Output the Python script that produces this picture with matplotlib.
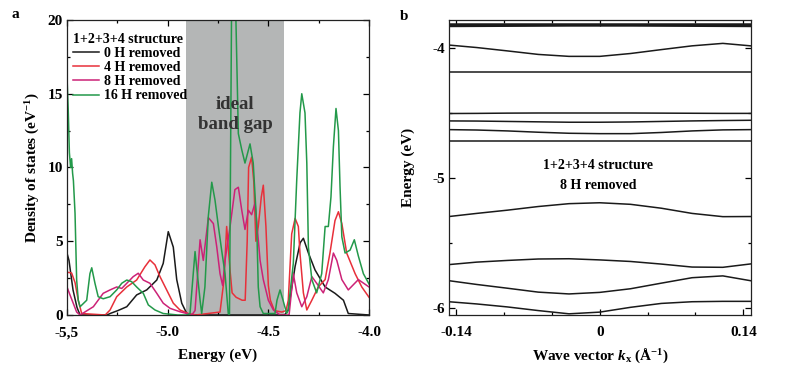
import numpy as np
import matplotlib
matplotlib.use("Agg")
import matplotlib.pyplot as plt
from matplotlib.ticker import FixedLocator, FixedFormatter

plt.rcParams['font.family'] = ['Liberation Serif', 'DejaVu Serif']
plt.rcParams['font.weight'] = 'bold'
plt.rcParams['axes.labelweight'] = 'bold'
plt.rcParams['axes.unicode_minus'] = False
plt.rcParams['mathtext.fontset'] = 'custom'
plt.rcParams['mathtext.rm'] = 'Liberation Serif:bold'
plt.rcParams['mathtext.it'] = 'Liberation Serif:italic:bold'
plt.rcParams['mathtext.bf'] = 'Liberation Serif:bold'

# ---- panel a: density of states ----
e_0h = [-5.5, -5.49, -5.47, -5.45, -5.435, -5.30, -5.286, -5.247, -5.203, -5.154, -5.104,
        -5.054, -5.022, -4.997, -4.972, -4.955, -4.930, -4.905, -4.88, -4.42, -4.401,
        -4.367, -4.342, -4.326, -4.301, -4.268, -4.218, -4.169, -4.127, -4.103, -4.0]
d_0h = [4.2, 3.7, 1.7, 0.5, 0.0, 0.0, 0.1, 0.3, 0.56, 1.36, 1.7,
        2.37, 3.5, 5.65, 4.6, 2.4, 0.8, 0.1, 0.0, 0.0, 0.34,
        3.3, 4.9, 5.2, 4.2, 3.05, 1.9, 1.47, 1.0, 0.1, 0.0]

e_4h = [-5.5, -5.477, -5.46, -5.444, -5.427, -5.31, -5.286, -5.253, -5.203, -5.154,
        -5.113, -5.088, -5.063, -5.038, -5.005, -4.972, -4.939, -4.897, -4.86,
        -4.74, -4.72, -4.707, -4.69, -4.68, -4.66, -4.63, -4.615, -4.605, -4.598,
        -4.583, -4.572, -4.562, -4.55, -4.535, -4.525, -4.512, -4.50, -4.49, -4.47,
        -4.433, -4.412, -4.401, -4.384, -4.367, -4.351, -4.343, -4.326, -4.309, -4.284,
        -4.252, -4.218, -4.194, -4.169, -4.152, -4.135, -4.111, -4.069, -4.036, -4.0]
d_4h = [2.9, 2.85, 2.2, 1.0, 0.1, 0.0, 0.34, 1.24, 1.9, 2.37,
        3.27, 3.73, 3.4, 2.6, 1.7, 0.8, 0.34, 0.1, 0.0,
        0.2, 2.4, 6.0, 3.0, 1.5, 1.2, 1.0, 1.0, 5.0, 10.0,
        10.7, 9.0, 5.0, 6.0, 8.0, 8.8, 6.0, 2.0, 1.0, 0.3,
        0.2, 0.3, 1.0, 5.5, 6.55, 6.0, 4.2, 1.5, 0.34, 1.0,
        1.9, 2.4, 4.2, 6.4, 7.0, 6.2, 4.2, 2.8, 1.9, 1.2]

e_8h = [-5.5, -5.485, -5.469, -5.452, -5.435, -5.369, -5.32, -5.286, -5.253, -5.228,
        -5.203, -5.171, -5.146, -5.121, -5.088, -5.054, -5.022, -4.988, -4.939, -4.905,
        -4.88, -4.864, -4.839, -4.823, -4.798, -4.773, -4.756, -4.740, -4.727, -4.715,
        -4.690, -4.666, -4.649, -4.632, -4.616, -4.599, -4.583, -4.566, -4.541, -4.525,
        -4.50, -4.475, -4.442, -4.397, -4.376, -4.359, -4.334, -4.309, -4.284, -4.26,
        -4.227, -4.202, -4.177, -4.16, -4.135, -4.103, -4.053, -4.0]
d_8h = [1.9, 1.36, 0.8, 0.2, 0.0, 0.56, 1.47, 1.7, 1.9, 1.8,
        2.15, 2.6, 2.83, 2.37, 2.15, 1.47, 0.8, 0.45, 0.22, 0.1,
        0.0, 0.3, 5.1, 3.7, 6.6, 6.2, 4.6, 2.8, 2.0, 3.7,
        6.0, 8.5, 8.66, 7.1, 5.8, 7.1, 6.8, 7.6, 3.7, 2.4,
        1.0, 0.34, 0.0, 0.0, 2.8, 1.5, 0.56, 1.24, 2.6, 2.15,
        1.5, 2.4, 4.2, 3.7, 2.4, 1.7, 2.4, 1.9]

e_16h = [-5.5, -5.494, -5.488, -5.482, -5.477, -5.472, -5.468, -5.46, -5.452, -5.444,
         -5.435, -5.402, -5.386, -5.377, -5.361, -5.345, -5.32, -5.286, -5.253, -5.228,
         -5.203, -5.179, -5.154, -5.121, -5.096, -5.063, -5.022, -4.95,
         -4.905, -4.889, -4.864, -4.839, -4.831, -4.815, -4.798, -4.781, -4.765, -4.748,
         -4.732, -4.715, -4.699, -4.693, -4.683, -4.675, -4.661, -4.649, -4.632, -4.616,
         -4.591, -4.575, -4.558, -4.550, -4.541, -4.525, -4.467, -4.457, -4.442, -4.427,
         -4.409, -4.402, -4.376, -4.359, -4.343, -4.334, -4.318, -4.309, -4.301, -4.284,
         -4.26, -4.235, -4.218, -4.202, -4.189, -4.177, -4.164, -4.152, -4.144, -4.135,
         -4.119, -4.094, -4.073, -4.053, -4.028, -4.0]
d_16h = [16.2, 14.0, 11.0, 10.0, 10.6, 9.6, 9.1, 6.9, 2.4, 1.0,
         0.56, 1.0, 2.8, 3.2, 2.15, 1.24, 1.1, 1.24, 1.7, 2.15,
         2.37, 2.26, 1.9, 1.47, 0.68, 0.34, 0.1, 0.0,
         0.0, 0.1, 4.3, 1.0, 0.1, 1.9, 6.7, 9.0, 7.8, 6.0,
         4.4, 2.8, 0.1, 0.0, 20.0, 24.0, 20.0, 12.3, 11.2, 10.3,
         11.6, 10.3, 6.2, 1.9, 0.56, 0.1, 0.1, 1.0, 1.7, 1.0,
         0.1, 0.3, 3.5, 9.15, 13.7, 15.0, 13.7, 10.3, 4.6, 2.4,
         1.5, 2.8, 6.0, 6.0, 8.0, 11.4, 14.0, 12.5, 8.7, 5.3,
         4.2, 4.4, 5.1, 4.0, 2.8, 2.1]

gap_lo, gap_hi = -4.909, -4.422

# ---- panel b: band structure, 8 H removed ----
k = [-0.147, -0.12, -0.09, -0.06, -0.03, 0.0, 0.03, 0.06, 0.09, 0.12, 0.147]
bands = [
    [-3.818] * 11,
    [-3.832, -3.831, -3.830, -3.829, -3.828, -3.828, -3.828, -3.829, -3.830, -3.831, -3.832],
    [-3.979, -3.998, -4.024, -4.051, -4.066, -4.066, -4.044, -4.014, -3.985, -3.966, -3.985],
    [-4.190] * 11,
    [-4.506, -4.505, -4.503, -4.502, -4.502, -4.502, -4.502, -4.503, -4.504, -4.505, -4.505],
    [-4.563, -4.564, -4.567, -4.570, -4.573, -4.573, -4.571, -4.567, -4.563, -4.560, -4.558],
    [-4.630, -4.633, -4.640, -4.650, -4.658, -4.661, -4.661, -4.652, -4.640, -4.632, -4.630],
    [-4.718] * 11,
    [-5.299, -5.275, -5.250, -5.222, -5.200, -5.193, -5.205, -5.235, -5.275, -5.300, -5.299],
    [-5.669, -5.650, -5.637, -5.626, -5.624, -5.633, -5.645, -5.665, -5.688, -5.690, -5.664],
    [-5.793, -5.822, -5.851, -5.881, -5.895, -5.883, -5.855, -5.812, -5.770, -5.756, -5.793],
    [-5.955, -5.972, -5.995, -6.023, -6.048, -6.035, -5.998, -5.968, -5.955, -5.952, -5.952],
]

fig = plt.figure(figsize=(7.87, 3.78), dpi=100)
ax1 = fig.add_axes([0.0851, 0.1667, 0.3838, 0.7804])
ax2 = fig.add_axes([0.5705, 0.1667, 0.3838, 0.7804])

# panel a
ax1.axvspan(gap_lo, gap_hi, color='#b4b6b6', zorder=0, lw=0)
ax1.plot(e_0h, d_0h, color='#1a1a1a', lw=1.1, label='0 H removed')
ax1.plot(e_4h, d_4h, color='#e8303a', lw=1.1, label='4 H removed')
ax1.plot(e_8h, d_8h, color='#cc2277', lw=1.1, label='8 H removed')
ax1.plot(e_16h, d_16h, color='#23994a', lw=1.1, label='16 H removed')
ax1.set_xlim(-5.5, -4.0)
ax1.set_ylim(0, 20)
ax1.xaxis.set_major_locator(FixedLocator([-5.5, -5.0, -4.5, -4.0]))
ax1.xaxis.set_major_formatter(FixedFormatter(['-5,5', '-5.0', '-4.5', '-4.0']))
ax1.xaxis.set_minor_locator(FixedLocator([-5.25, -4.75, -4.25]))
ax1.yaxis.set_major_locator(FixedLocator([0, 5, 10, 15, 20]))
ax1.yaxis.set_minor_locator(FixedLocator([2.5, 7.5, 12.5, 17.5]))
ax1.set_xlabel('Energy (eV)', fontsize=11)
ax1.set_ylabel('Density of states (eV$^{-1}$)', fontsize=11)
ax1.xaxis.set_label_coords(0.5, -0.115)
ax1.yaxis.set_label_coords(-0.083, 0.5)
ax1.text((gap_lo + gap_hi) / 2, 13.6, 'ideal\nband gap', ha='center', va='center',
         fontsize=13.5, color='#333333', linespacing=1.25)
leg = ax1.legend(title='1+2+3+4 structure', loc='upper left', bbox_to_anchor=(0.0, 0.975),
                 frameon=False, fontsize=10, title_fontsize=10, handlelength=1.9,
                 handletextpad=0.4, labelspacing=0.08, borderaxespad=0.2, borderpad=0.2,
                 alignment='left')
leg.get_title().set_fontweight('bold')

# panel b
for i, band in enumerate(bands):
    ax2.plot(k, band, color='#1a1a1a', lw=1.8 if i < 2 else 1.1)
ax2.set_xlim(-0.147, 0.1475)
ax2.set_ylim(-6.057, -3.786)
ax2.xaxis.set_major_locator(FixedLocator([-0.14, 0.0, 0.14]))
ax2.xaxis.set_major_formatter(FixedFormatter(['-0.14', '0', '0.14']))
ax2.xaxis.set_minor_locator(FixedLocator([-0.0933, -0.0467, 0.0467, 0.0933]))
ax2.yaxis.set_major_locator(FixedLocator([-6, -5, -4]))
ax2.yaxis.set_major_formatter(FixedFormatter(['-6', '-5', '-4']))
ax2.yaxis.set_minor_locator(FixedLocator([-5.5, -4.5]))
ax2.set_xlabel('Wave vector $k_{\\mathrm{x}}$ (Å$^{-1}$)', fontsize=11)
ax2.set_ylabel('Energy (eV)', fontsize=11)
ax2.xaxis.set_label_coords(0.5, -0.108)
ax2.yaxis.set_label_coords(-0.113, 0.5)
ax2.text(0.493, 0.508, '1+2+3+4 structure', transform=ax2.transAxes,
         ha='center', va='center', fontsize=10)
ax2.text(0.493, 0.44, '8 H removed', transform=ax2.transAxes,
         ha='center', va='center', fontsize=10)

for ax in (ax1, ax2):
    ax.tick_params(which='both', direction='in', top=True, right=True,
                   labelsize=11, width=0.9)
    ax.tick_params(which='major', length=4)
    ax.tick_params(which='minor', length=2.5)
    ax.tick_params(axis='x', pad=8)
    ax.tick_params(axis='y', pad=3)
    for s in ax.spines.values():
        s.set_linewidth(0.9)
        s.set_color('#222222')

fig.text(12 / 787, 1 - 15 / 378, 'a', fontsize=11, va='center')
fig.text(400 / 787, 1 - 17 / 378, 'b', fontsize=11, va='center')

fig.savefig('out.png', dpi=100)
